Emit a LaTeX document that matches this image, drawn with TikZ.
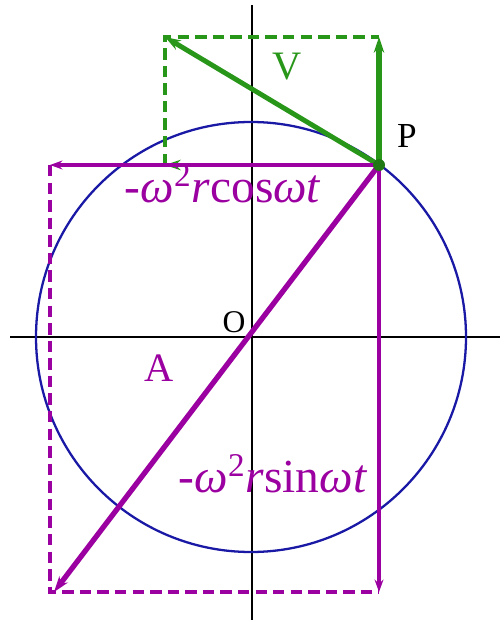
\documentclass[tikz,border=0pt]{standalone}
\usepackage{fontspec}
\setmainfont{Liberation Serif}
\usetikzlibrary{arrows.meta}
\definecolor{vgreen}{RGB}{40,150,25}
\definecolor{apurple}{RGB}{155,0,160}
\definecolor{cblue}{RGB}{25,25,165}
\tikzset{
  vec/.style={-{Stealth[length=9pt,width=6pt]}},
  comp/.style={-{Stealth[length=7pt,width=5pt]},line width=2.2pt},
  guide/.style={line width=1.8pt,dash pattern=on 6.5pt off 3.5pt},
}
\begin{document}
\begin{tikzpicture}[x=0.02cm,y=-0.02cm]
\useasboundingbox (0,0) rectangle (503,624);
\coordinate (O) at (252,337);
\coordinate (P) at (379,165);
\coordinate (V) at (165,37);
\coordinate (Vy) at (379,37);
\coordinate (Vx) at (165,165);
\coordinate (A) at (54,592);
\coordinate (Ax) at (50,165);
\coordinate (Ay) at (379,592);
\coordinate (Ac) at (50,592);
\draw[line width=1pt] (10,337) -- (500,337);
\draw[line width=1pt] (252,5) -- (252,620);
\draw[cblue,line width=1.3pt] (251,337) circle (215);
\draw[guide,vgreen] (Vx) -- (V) -- (Vy);
\draw[guide,apurple] (Ax) -- (Ac) -- (Ay);
\draw[vec,vgreen,line width=2pt,yshift=-1.5] (P) -- (Vx);
\draw[vec,vgreen,line width=3.2pt] (P) -- (Vy);
\draw[vec,vgreen,line width=2.8pt] (P) -- (V);
\draw[comp,apurple] (P) -- (Ax);
\draw[comp,apurple] (P) -- (Ay);
\draw[vec,apurple,line width=3pt] (P) -- (A);
\fill[vgreen!80!black] (P) circle (6);
\node[font=\fontsize{20}{24}\selectfont] (lP) at (407,136) {P};
\node[font=\fontsize{18}{21}\selectfont] (lO) at (234,322) {O};
\node[vgreen,font=\fontsize{23}{26}\selectfont] (lV) at (287,67) {V};
\node[apurple,font=\fontsize{23}{26}\selectfont] (lA) at (159,368) {A};
\node[apurple,font=\fontsize{27}{30}\selectfont] (lcos) at (223,184)
  {-\textit{ω}\textsuperscript{2}\textit{r}cos\textit{ωt}};
\node[apurple,font=\fontsize{27}{30}\selectfont] (lsin) at (273,474)
  {-\textit{ω}\textsuperscript{2}\textit{r}sin\textit{ωt}};
\end{tikzpicture}
\end{document}
